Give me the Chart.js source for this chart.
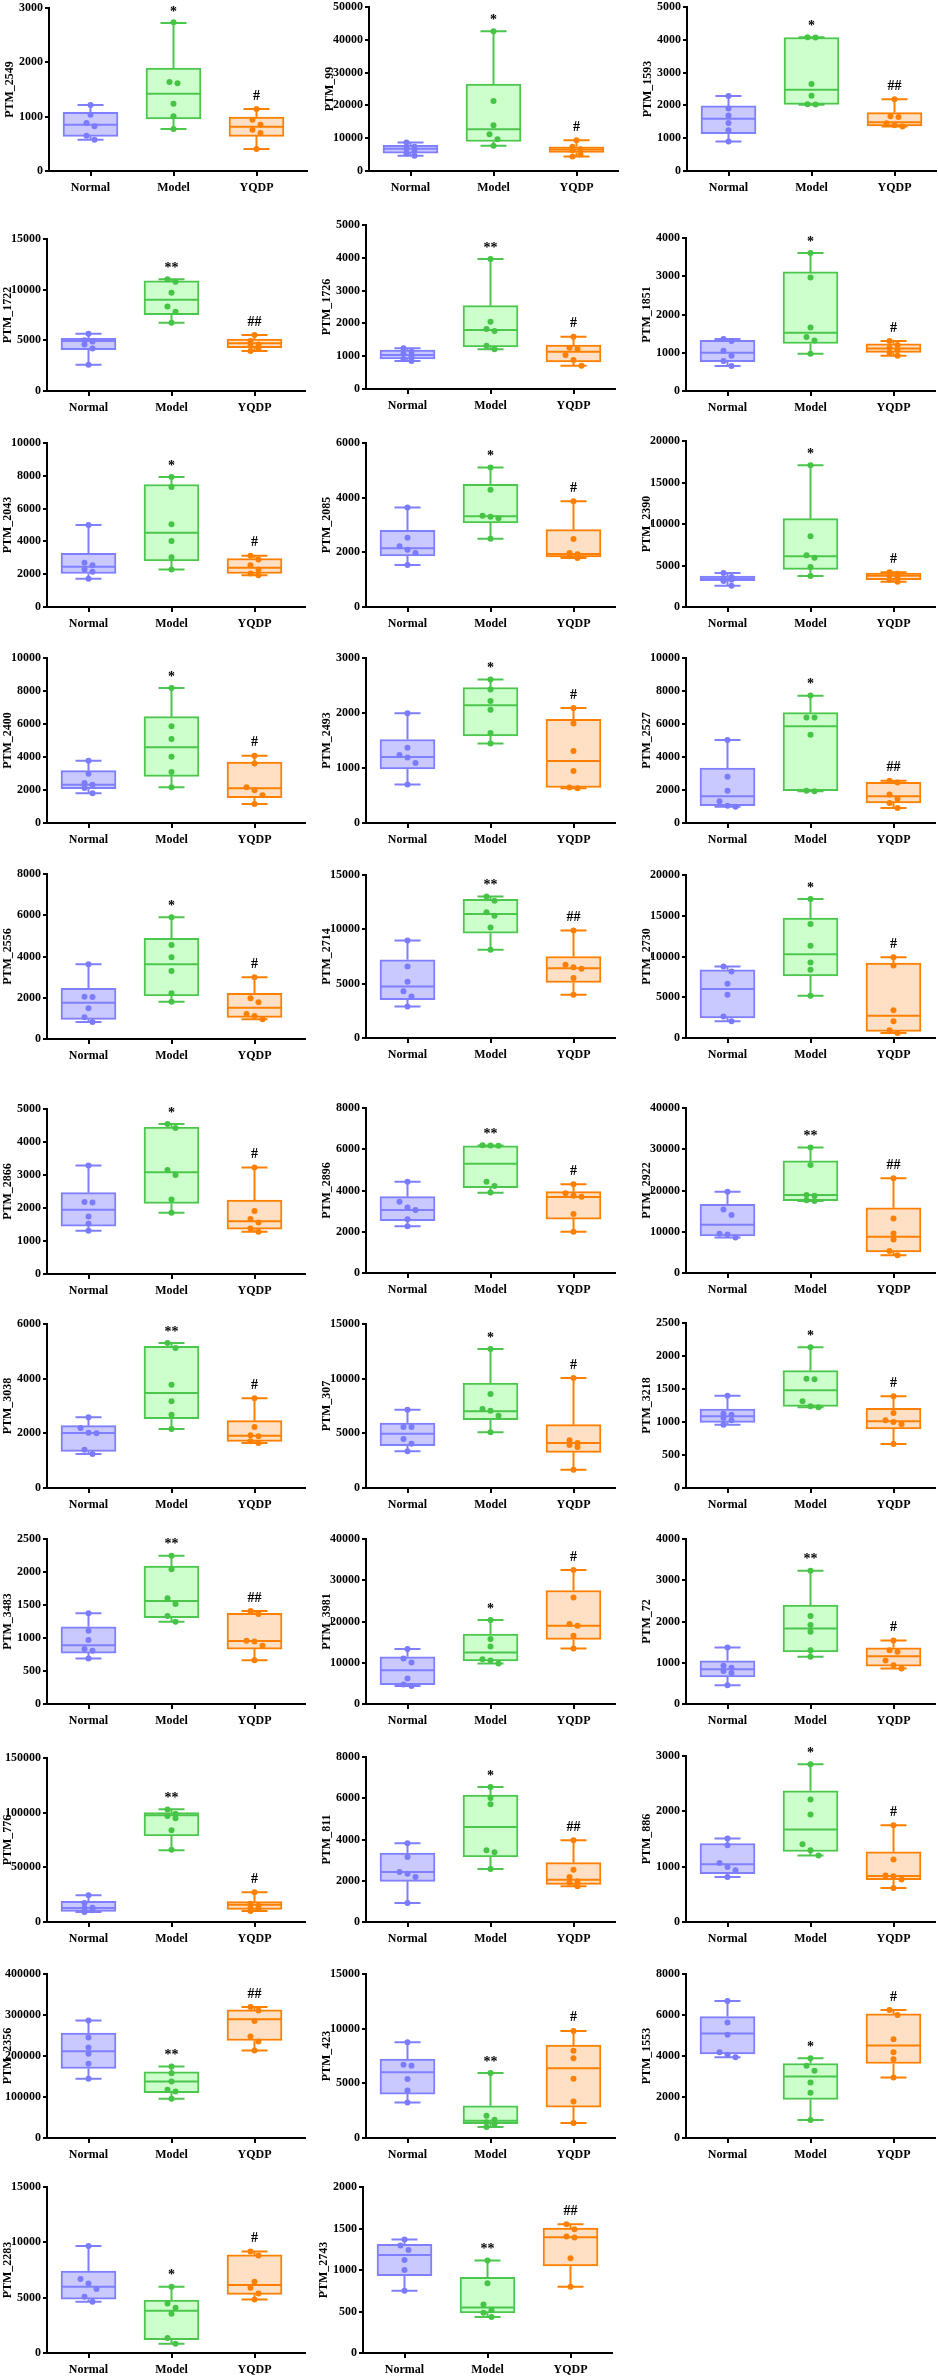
<!DOCTYPE html>
<html><head><meta charset="utf-8">
<script src="https://cdn.jsdelivr.net/npm/chart.js@4.4.0/dist/chart.umd.min.js"></script>
<style>
html,body{margin:0;padding:0;background:#fff;}
body{width:938px;height:2379px;position:relative;overflow:hidden;}
canvas{position:absolute;}
</style>
</head><body>
<script>
// ---------- DATA ----------
const groups = ['Normal','Model','YQDP'];
const names = ['PTM_2549','PTM_99','PTM_1593','PTM_1722','PTM_1726','PTM_1851','PTM_2043','PTM_2085','PTM_2390','PTM_2400','PTM_2493','PTM_2527','PTM_2556','PTM_2714','PTM_2730','PTM_2866','PTM_2896','PTM_2922','PTM_3038','PTM_307','PTM_3218','PTM_3483','PTM_3981','PTM_72','PTM_776','PTM_811','PTM_886','PTM_2356','PTM_423','PTM_1553','PTM_2283','PTM_2743'];
const yMax = [3000,50000,5000,15000,5000,4000,10000,6000,20000,10000,3000,10000,8000,15000,20000,5000,8000,40000,6000,15000,2500,2500,40000,4000,150000,8000,3000,400000,15000,8000,15000,2000];
const yStep = [1000,10000,1000,5000,1000,1000,2000,2000,5000,2000,1000,2000,2000,5000,5000,1000,2000,10000,2000,5000,500,500,10000,1000,50000,2000,1000,100000,5000,2000,5000,500];
const sigModel = ['*','*','*','**','**','*','*','*','*','*','*','*','*','**','*','*','**','**','**','*','*','**','*','**','**','*','*','**','**','*','*','**'];
const sigYQDP = ['#','#','##','##','#','#','#','#','#','#','#','##','#','##','#','#','#','##','#','#','#','##','#','#','#','##','#','##','#','#','#','##'];

// box statistics: [min, q1, median, q3, max]
const normalBox = [
[577,638,853,1080,1215],[4650,5470,6780,7790,8700],[900,1140,1590,1985,2290],[2600,4080,4935,5200,5660],
[853,914,1036,1189,1240],[652,765,1000,1322,1357],[1715,2040,2450,3265,5000],[1537,1867,2147,2806,3636],
[2570,3173,3414,3735,4100],[1798,2080,2323,3172,3777],[699,982,1199,1518,1994],[990,1050,1616,3333,5030],
[824,953,1761,2456,3620],[2910,3520,4745,7190,8970],[2040,2450,6000,8370,8780],[1308,1450,1947,2464,3286],
[2272,2532,3051,3700,4430],[8600,9010,11680,16630,19720],[1244,1342,2013,2282,2587],[3354,3872,4970,5945,7165],
[960,995,1086,1197,1399],[690,771,892,1171,1374],[4380,4706,8196,11440,13310],[454,657,843,1046,1370],
[9150,9760,12800,18900,24390],[921,1972,2424,3345,3814],[815,875,1044,1418,1509],[144400,169600,211800,255600,286400],
[3256,4017,6025,7212,8764],[3944,4106,5096,5924,6687],[4627,4868,5987,7409,9677],[750,931,1181,1310,1367]];
const modelBox = [
[773,957,1423,1896,2724],[7690,9000,12750,26500,42600],[2020,2030,2480,4070,4080],[6740,7530,9010,10860,11020],
[1209,1280,1798,2540,3962],[974,1243,1522,3113,3609],[2286,2817,4530,7470,7920],[2500,3074,3318,4490,5100],
[3735,4540,6100,10640,17070],[2160,2828,4585,6444,8180],[1446,1584,2139,2464,2608],[1919,1960,5858,6686,7716],
[1810,2085,3620,4880,5900],[8110,9640,11420,12760,13010],[5190,7630,10290,14700,17060],[1856,2140,3083,4452,4543],
[3895,4139,5291,6168,6184],[17450,17530,18910,27180,30430],[2160,2538,3477,5185,5307],[5092,6250,7013,9604,12714],
[1222,1237,1480,1778,2131],[1247,1308,1562,2089,2246],[9820,10470,12500,16960,20370],[1144,1265,1833,2400,3228],
[65550,78660,97570,100000,103060],[2570,3151,4606,6157,6545],[1201,1274,1672,2372,2849],[95700,110400,137900,161500,174400],
[1004,1309,1582,2952,5934],[876,1883,3003,3636,3895],[847,1210,3810,4778,5987],[435,484,548,911,1113]];
const yqdpBox = [
[405,638,816,994,1141],[4450,5670,6580,7390,9410],[1356,1376,1488,1781,2186],[3950,4280,4700,5130,5530],
[711,823,1138,1341,1595],[922,1009,1113,1235,1304],[1940,2040,2388,2960,3123],[1790,1830,1940,2830,3868],
[3050,3290,3775,4100,4200],[1150,1535,2100,3697,4080],[630,645,1127,1885,2090],[909,1212,1616,2464,2565],
[953,1050,1519,2214,2990],[3980,5110,6430,7500,9890],[612,816,2730,9180,9920],[1278,1359,1602,2240,3225],
[1996,2613,3684,3944,4300],[4300,5110,8760,15820,22960],[1647,1708,1915,2464,3282],[1677,3262,4116,5793,10062],
[667,894,1010,1207,1389],[664,832,953,1374,1410],[13470,15660,18990,27510,32460],[860,916,1160,1362,1541],
[10060,11580,15850,18600,27130],[1729,1826,2052,2876,3960],[616,767,833,1268,1750],[213400,237700,289700,312400,319700],
[1370,2830,6390,8490,9798],[2954,3636,4512,6054,6248],[4838,5292,6139,8860,9163],[798,1048,1395,1504,1552]];

// individual sample points
const normalPts = [
[1215,1037,883,822,650,577],[8700,7400,6800,6100,5300,4650],[2287,1903,1690,1467,1245,901],[5650,5000,4880,4600,4200,2600],
[1240,1138,1077,1006,914,853],[1357,1304,1052,922,783,652],[5000,2694,2551,2286,2143,1715],[3636,2537,2220,2098,1976,1537],
[4100,3614,3410,3290,3130,2570],[3780,2990,2420,2320,2120,1800],[1994,1367,1235,1193,1090,699],[5030,2808,1960,1313,1050,990],
[3620,2052,2040,1487,1050,824],[8970,6580,5170,4310,3830,2910],[8780,8160,6650,5310,2650,2040],[3286,2180,2170,1744,1521,1308],
[4430,3457,3180,3050,2610,2272],[19720,15420,14040,9490,9330,8600],[2587,2196,2020,2005,1403,1244],[7165,5590,5570,4482,4055,3354],
[1399,1126,1110,1060,1025,960],[1374,1110,968,832,806,690],[13310,11030,10060,6170,4706,4380],[1370,925,876,803,754,454],
[24390,17380,13110,12800,10670,9150],[3814,3151,2424,2343,2182,921],[1509,1388,1068,996,936,815],[286400,245000,220600,205200,180900,144400],
[8764,6694,6603,5386,4352,3256],[6687,5632,5031,4187,4058,3944],[9677,6683,6290,5776,5080,4627],[1367,1294,1242,1121,1000,750]];
const modelPts = [
[2736,1638,1613,1239,1006,773],[42600,21350,13970,11230,9715,7690],[4078,4068,2651,2297,2034,2024],[11020,10790,9700,8350,7830,6740],
[3962,2052,1829,1768,1321,1209],[3609,2965,1661,1409,1322,974],[7920,7310,5040,4020,3041,2286],[5100,4290,3340,3300,3250,2500],
[17070,8515,6225,5940,4820,3735],[8180,5860,5090,4020,3090,2160],[2608,2428,2217,2060,1638,1446],[7720,6400,6390,5350,1960,1920],
[5900,4557,3960,3297,2214,1810],[13010,12640,11570,11240,10170,8110],[17060,14000,11310,9270,8370,5190],[4543,4422,3154,3000,2261,1856],
[6190,6180,6170,4430,4220,3900],[30430,26210,18910,18740,17610,17450],[5307,5124,3782,3172,2684,2160],[12714,8598,7226,7073,6616,5092],
[2131,1655,1648,1313,1237,1222],[2246,2043,1602,1516,1333,1247],[20370,15740,13960,10870,10550,9820],[3228,2133,1914,1752,1306,1144],
[103000,99000,97000,95000,84000,66000],[6545,6012,5705,3474,3378,2570],[2849,2215,1944,1406,1298,1201],[174400,158200,137900,117600,113600,95700],
[5934,2039,1674,1430,1278,1004],[3895,3522,3279,2711,2207,876],[5987,4476,4083,3538,1361,847],[1113,839,585,516,484,435]];
const yqdpPts = [
[1141,945,853,761,699,405],[9400,7400,6600,6300,5000,4450],[2186,1670,1650,1457,1397,1356],[5530,4930,4600,4440,4210,3950],
[1595,1260,1219,1036,884,711],[1304,1200,1130,1070,1000,922],[3120,2900,2550,2290,2040,1940],[3868,2490,1976,1930,1855,1790],
[4200,4010,3850,3610,3290,3050],[4080,3600,2160,1980,1680,1150],[2090,1807,1307,946,645,630],[2565,2460,1720,1470,1210,909],
[2990,1970,1778,1212,1115,953],[9890,6730,6520,6370,5510,3980],[9920,8900,3390,2040,940,612],[3225,1906,1663,1562,1379,1278],
[4300,3863,3750,3700,2857,1996],[22960,13230,9570,8110,5360,4300],[3282,2233,1928,1891,1708,1647],[10062,4360,4116,3933,3750,1677],
[1389,1136,1025,1000,965,667],[1410,1364,960,946,882,664],[32460,25810,19390,18990,16550,13470],[1541,1306,1265,1054,941,860],
[27130,16770,14940,12800,11890,10060],[3960,2537,2182,1972,1907,1729],[1750,1129,839,827,767,616],[319700,310800,285600,247500,235300,213400],
[9798,7973,7304,5417,3347,1370],[6248,6005,4820,4187,3846,2954],[9163,8800,6441,5897,5383,4838],[1552,1492,1403,1391,1141,798]];

// ---------- LAYOUT & STYLE ----------
const PANEL_TOP  = [8,7,7, 239,225,238, 443,443,441, 658,658,658, 874,875,875, 1109,1108,1108, 1324,1324,1323, 1539,1539,1539, 1758,1757,1756, 1974,1974,1974, 2187,2187];
const PANEL_ZERO = [171,171,171, 391,389,391, 607,607,607, 823,823,823, 1039,1038,1038, 1274,1273,1273, 1488,1488,1488, 1704,1704,1704, 1922,1922,1922, 2138,2138,2138, 2353,2353];
const AXIS_X_ROW1 = [49,369,687];
const AXIS_X = [47,366,686];
const PLOT_W = [258,249,249];
const UNIT = 83;           // pixels per category
const Y_AXIS_W = 50, X_AXIS_H = 34, PAD_TOP = 14, PAD_RIGHT = 4;
const BORDER = ['#7f7fff','#4cc64c','#ff8000'];
const FILL = ['#c9c9ff','#ccffcc','#ffe0c4'];
const POINT = ['#7b7bff','#45c445','#ff8000'];
const FONT = '"Liberation Serif","Times New Roman",serif';
const BOX_W = 55, CAP_HALF = 13;

const panelInfo = new WeakMap();

function spread(vals, pxPerVal){
  const order = vals.map((v,k)=>k).sort((a,b)=>vals[b]-vals[a]);
  const offs = new Array(vals.length).fill(0);
  let cluster = [order[0]];
  const flush = ()=>{
    const n = cluster.length;
    if(n===1){ offs[cluster[0]] = 0; }
    else if(n<=3){ cluster.forEach((k,j)=>{ offs[k] = (j-(n-1)/2)*8; }); }
    else { cluster.forEach((k,j)=>{ offs[k] = (j%2===0?-4:4); }); }
  };
  for(let j=1;j<order.length;j++){
    const k = order[j], prev = order[j-1];
    if((vals[prev]-vals[k])*pxPerVal < 6) cluster.push(k); else { flush(); cluster=[k]; }
  }
  flush();
  return offs;
}

const boxPlugin = {
  id:'boxWhiskers',
  afterDatasetDraw(chart, args){
    if(args.index !== 0) return;
    const info = panelInfo.get(chart.canvas); if(!info) return;
    const xs = chart.scales.x, ys = chart.scales.y, ctx = chart.ctx;
    ctx.save();
    ctx.lineWidth = 2; ctx.lineCap = 'butt';
    info.boxes.forEach((b,g)=>{
      const xc = xs.getPixelForValue(g+1);
      const pMin = ys.getPixelForValue(b[0]), pQ1 = ys.getPixelForValue(b[1]),
            pMed = ys.getPixelForValue(b[2]), pQ3 = ys.getPixelForValue(b[3]),
            pMax = ys.getPixelForValue(b[4]);
      ctx.strokeStyle = BORDER[g];
      ctx.beginPath();
      ctx.moveTo(xc, pQ3); ctx.lineTo(xc, pMax);
      ctx.moveTo(xc-CAP_HALF, pMax); ctx.lineTo(xc+CAP_HALF, pMax);
      ctx.moveTo(xc, pQ1); ctx.lineTo(xc, pMin);
      ctx.moveTo(xc-CAP_HALF, pMin); ctx.lineTo(xc+CAP_HALF, pMin);
      ctx.moveTo(xc-BOX_W/2+1, pMed); ctx.lineTo(xc+BOX_W/2-1, pMed);
      ctx.stroke();
    });
    ctx.restore();
  }
};

const sigPlugin = {
  id:'sig',
  afterDraw(chart){
    const info = panelInfo.get(chart.canvas); if(!info) return;
    const xs = chart.scales.x, ys = chart.scales.y, ctx = chart.ctx;
    ctx.save();
    ctx.fillStyle = '#000';
    ctx.font = 'bold 14px ' + FONT;
    ctx.textAlign = 'center'; ctx.textBaseline = 'middle';
    info.sig.forEach((s,j)=>{
      const g = j+1;
      const b = info.boxes[g];
      const y = ys.getPixelForValue(b[4]) - (s[0]==='*' ? 11 : 13);
      ctx.fillText(s, xs.getPixelForValue(g+1), y);
    });
    ctx.restore();
  }
};

for(let i=0;i<names.length;i++){
  const row = Math.floor(i/3), col = i%3;
  let axisX = row===0 ? AXIS_X_ROW1[col] : AXIS_X[col];
  if(row===10 && col===1) axisX = 363;
  const top = PANEL_TOP[i], zero = PANEL_ZERO[i];
  const w = Y_AXIS_W + PLOT_W[col] + PAD_RIGHT;
  const h = (zero-top) + PAD_TOP + X_AXIS_H;
  const cv = document.createElement('canvas');
  cv.width = w; cv.height = h;
  cv.style.left = (axisX - Y_AXIS_W) + 'px';
  cv.style.top = (top - PAD_TOP) + 'px';
  cv.style.width = w+'px'; cv.style.height = h+'px';
  document.body.appendChild(cv);

  const boxes = [normalBox[i], modelBox[i], yqdpBox[i]];
  const pts = [normalPts[i], modelPts[i], yqdpPts[i]];
  panelInfo.set(cv, { boxes: boxes, sig: [sigModel[i], sigYQDP[i]] });
  const pxPerVal = (zero-top)/yMax[i];
  const scatter = [], pcol = [];
  pts.forEach((arr,g)=>{
    const offs = spread(arr, pxPerVal);
    arr.forEach((v,k)=>{ scatter.push({x: g+1 + offs[k]/UNIT, y: v}); pcol.push(POINT[g]); });
  });
  const xMax = 0.5 + PLOT_W[col]/UNIT;

  new Chart(cv.getContext('2d'), {
    type:'bar',
    data:{ datasets:[
      { type:'bar', data: boxes.map((b,g)=>({x:g+1, y:[b[1],b[3]]})),
        backgroundColor: FILL, borderColor: BORDER, borderWidth: 2, borderSkipped: false,
        barThickness: BOX_W, order: 2 },
      { type:'scatter', data: scatter, pointBackgroundColor: pcol, pointBorderColor: pcol,
        pointBorderWidth: 0, pointRadius: 3, order: 1 }
    ]},
    options:{
      responsive:false, animation:false, events:[], devicePixelRatio:1,
      layout:{ padding:{ top:PAD_TOP, right:PAD_RIGHT, left:0, bottom:0 } },
      plugins:{ legend:{display:false}, tooltip:{enabled:false} },
      scales:{
        x:{ type:'linear', min:0.5, max:xMax, offset:false,
            afterBuildTicks: s=>{ s.ticks = [1,2,3].map(v=>({value:v})); },
            afterFit: s=>{ s.height = X_AXIS_H; },
            ticks:{ callback: v=>groups[Math.round(v)-1], font:{family:FONT,size:12,weight:'bold'}, color:'#000', padding:5, maxRotation:0, autoSkip:false },
            grid:{ display:true, offset:false, drawOnChartArea:false, drawTicks:true, tickLength:5, color:'#000', lineWidth:2 },
            border:{ display:true, color:'#000', width:2 } },
        y:{ type:'linear', min:0, max:yMax[i],
            afterFit: s=>{ s.width = Y_AXIS_W; },
            ticks:{ stepSize:yStep[i], callback: v=>String(v), font:{family:FONT,size:12,weight:'bold'}, color:'#000', padding:2 },
            grid:{ display:true, drawOnChartArea:false, drawTicks:true, tickLength:4, color:'#000', lineWidth:2 },
            border:{ display:true, color:'#000', width:2 },
            title:{ display:true, text:names[i], font:{family:FONT,size:12,weight:'bold'}, color:'#000', padding:{top:4,bottom:0} } }
      }
    },
    plugins:[boxPlugin, sigPlugin]
  });
}
</script>
</body></html>
